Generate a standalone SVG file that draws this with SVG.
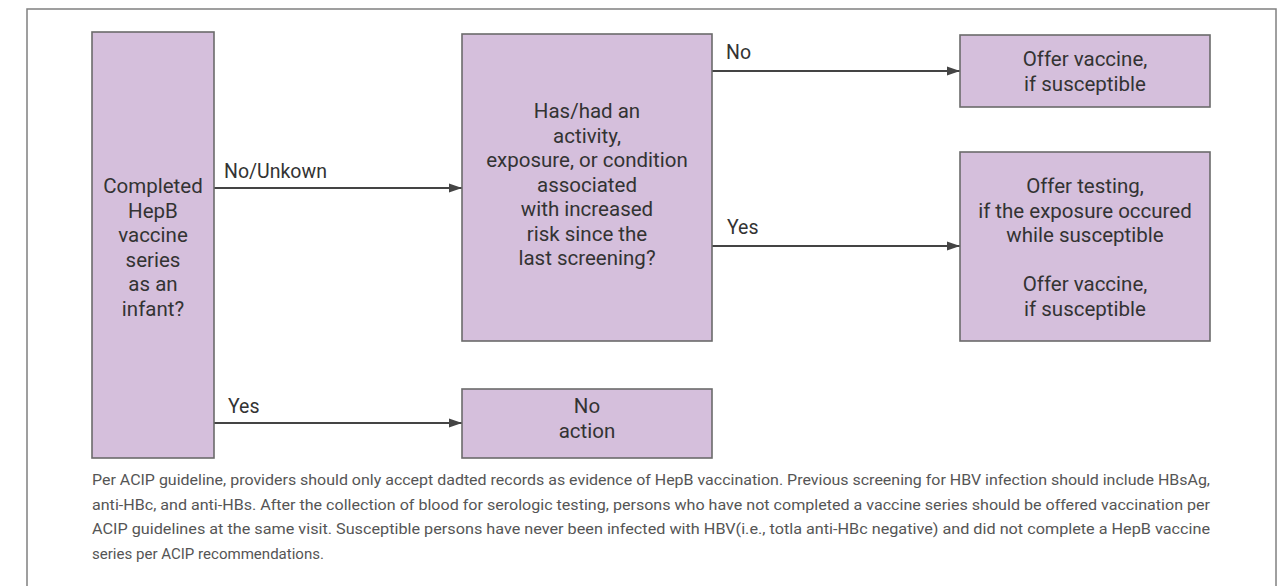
<svg xmlns="http://www.w3.org/2000/svg" width="1284" height="586" viewBox="0 0 1284 586">
<style>
.box{fill:#d5bfdc;stroke:#6b6b6b;stroke-width:1.6}
.t{font-family:Roboto,"Liberation Sans",sans-serif;font-size:20.5px;fill:#333;text-anchor:middle}
.lbl{font-family:Roboto,"Liberation Sans",sans-serif;font-size:19.5px;fill:#333}
.edge{stroke:#444;stroke-width:2;fill:none;marker-end:url(#ah)}
.note{font-family:Roboto,"Liberation Sans",sans-serif;font-size:15.5px;fill:#555}
</style>
<defs>
<marker id="ah" markerUnits="userSpaceOnUse" markerWidth="14" markerHeight="10" refX="13" refY="5" orient="auto">
<path d="M0,0.5 L13,5 L0,9.5 Z" fill="#444"/>
</marker>
</defs>
<rect x="0" y="0" width="1284" height="586" fill="#fff"/>
<rect id="frame" x="27" y="9" width="1249" height="600" fill="none" stroke="#808080" stroke-width="1.5"/>
<g id="connectors">
<line class="edge" x1="214" y1="188" x2="462" y2="188"/>
<line class="edge" x1="214" y1="423" x2="462" y2="423"/>
<line class="edge" x1="712" y1="71" x2="960" y2="71"/>
<line class="edge" x1="712" y1="246" x2="960" y2="246"/>
<text class="lbl" x="224" y="178">No/Unkown</text>
<text class="lbl" x="228" y="413">Yes</text>
<text class="lbl" x="726" y="59">No</text>
<text class="lbl" x="727" y="234">Yes</text>
</g>
<g id="n_completed">
<rect class="box" x="92" y="32" width="122" height="426"/>
<text class="t" x="153" y="193">Completed</text>
<text class="t" x="153" y="217.5">HepB</text>
<text class="t" x="153" y="242">vaccine</text>
<text class="t" x="153" y="266.5">series</text>
<text class="t" x="153" y="291">as an</text>
<text class="t" x="153" y="315.5">infant?</text>
</g>
<g id="n_risk">
<rect class="box" x="462" y="34" width="250" height="307"/>
<text class="t" x="587" y="118">Has/had an</text>
<text class="t" x="587" y="142.5">activity,</text>
<text class="t" x="587" y="167">exposure, or condition</text>
<text class="t" x="587" y="191.5">associated</text>
<text class="t" x="587" y="216">with increased</text>
<text class="t" x="587" y="240.5">risk since the</text>
<text class="t" x="587" y="265">last screening?</text>
</g>
<g id="n_noaction">
<rect class="box" x="462" y="389" width="250" height="69"/>
<text class="t" x="587" y="413">No</text>
<text class="t" x="587" y="437.5">action</text>
</g>
<g id="n_offer1">
<rect class="box" x="960" y="35" width="250" height="72"/>
<text class="t" x="1085" y="66">Offer vaccine,</text>
<text class="t" x="1085" y="91">if susceptible</text>
</g>
<g id="n_offer2">
<rect class="box" x="960" y="152" width="250" height="189"/>
<text class="t" x="1085" y="193">Offer testing,</text>
<text class="t" x="1085" y="217.5">if the exposure occured</text>
<text class="t" x="1085" y="242">while susceptible</text>
<text class="t" x="1085" y="291">Offer vaccine,</text>
<text class="t" x="1085" y="315.5">if susceptible</text>
</g>
<g id="footnote">
<text class="note" x="92" y="485" textLength="1118" lengthAdjust="spacingAndGlyphs">Per ACIP guideline, providers should only accept dadted records as evidence of HepB vaccination. Previous screening for HBV infection should include HBsAg,</text>
<text class="note" x="92" y="509.5" textLength="1118" lengthAdjust="spacingAndGlyphs">anti-HBc, and anti-HBs. After the collection of blood for serologic testing, persons who have not completed a vaccine series should be offered vaccination per</text>
<text class="note" x="92" y="534" textLength="1118" lengthAdjust="spacingAndGlyphs">ACIP guidelines at the same visit. Susceptible persons have never been infected with HBV(i.e., totla anti-HBc negative) and did not complete a HepB vaccine</text>
<text class="note" x="92" y="558.5" textLength="232" lengthAdjust="spacingAndGlyphs">series per ACIP recommendations.</text>
</g>
</svg>
